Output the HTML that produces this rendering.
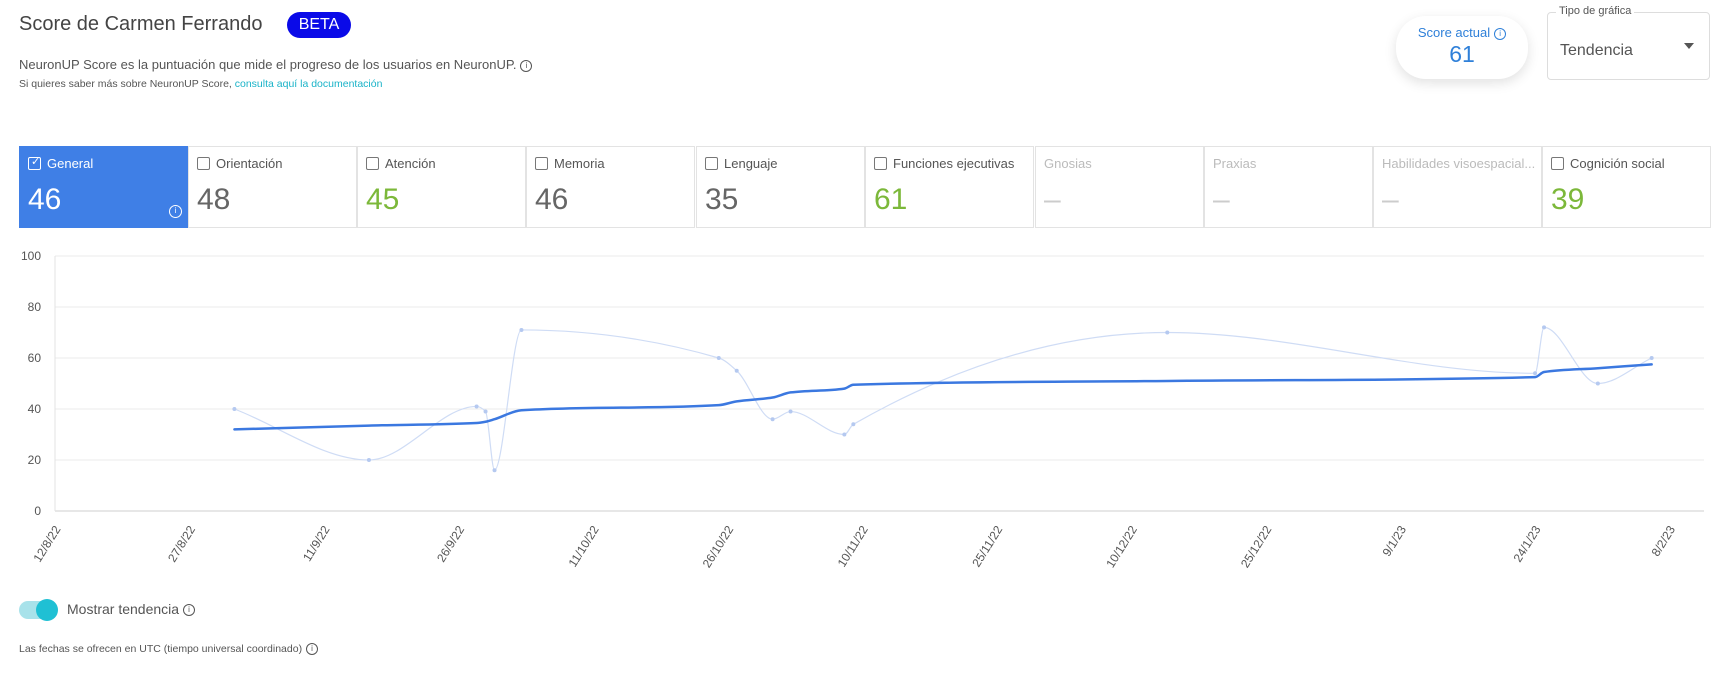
<!DOCTYPE html>
<html><head><meta charset="utf-8">
<style>
body{margin:0;width:1726px;height:680px;background:#fff;font-family:"Liberation Sans",sans-serif;position:relative;overflow:hidden;color:#444}
.abs{position:absolute}
.info{display:inline-block;width:10px;height:10px;border:1px solid currentColor;border-radius:50%;font-size:8px;line-height:10px;text-align:center;vertical-align:middle;margin-left:4px}
.cell{position:absolute;top:146px;height:82px;width:169px;border:1px solid #e3e3e3;box-sizing:border-box;background:#fff}
.cell .lbl{position:absolute;left:8px;top:9px;font-size:13px;color:#555;white-space:nowrap;overflow:hidden;width:158px}
.cell .cb{display:inline-block;width:13px;height:13px;border:1.5px solid #777;border-radius:2px;vertical-align:-2px;margin-right:6px;box-sizing:border-box}
.cell .val{position:absolute;left:8px;top:36px;font-size:30px;color:#666}
.green{color:#7cb83a!important}
.dis{color:#bbb!important}
.dash{color:#ccc!important}
</style></head><body>
<div class="abs" style="left:19px;top:13px;font-size:20px;color:#444">Score de Carmen Ferrando</div>
<div class="abs" style="left:287px;top:12px;width:64px;height:26px;border-radius:13px;background:#0a0ae8;color:#fff;font-size:16px;line-height:26px;text-align:center">BETA</div>
<div class="abs" style="left:19px;top:57px;font-size:13px;color:#555">NeuronUP Score es la puntuación que mide el progreso de los usuarios en NeuronUP.<span class="info">i</span></div>
<div class="abs" style="left:19px;top:78px;font-size:10.5px;color:#555">Si quieres saber más sobre NeuronUP Score, <span style="color:#1ab3c8">consulta aquí la documentación</span></div>

<div class="abs" style="left:1396px;top:16px;width:132px;height:63px;border-radius:30px;box-shadow:0 4px 12px rgba(0,0,0,0.12);background:#fff;text-align:center">
<div style="color:#2f80d9;font-size:13px;margin-top:9px">Score actual<span class="info">i</span></div>
<div style="color:#2f80d9;font-size:23px;margin-top:1px">61</div></div>

<div class="abs" style="left:1547px;top:12px;width:163px;height:68px;border:1px solid #ddd;border-radius:4px;box-sizing:border-box">
<div style="position:absolute;left:8px;top:-8px;background:#fff;padding:0 3px;font-size:11px;color:#555">Tipo de gráfica</div>
<div style="position:absolute;left:12px;top:29px;font-size:16px;color:#555">Tendencia</div>
<div style="position:absolute;left:136px;top:30px;width:0;height:0;border-left:5px solid transparent;border-right:5px solid transparent;border-top:6px solid #555"></div></div>

<div class="cell" style="left:19px;background:#3f7fe6;border-color:#3f7fe6"><div class="lbl" style="color:#fff"><span class="cb" style="border-color:#fff;position:relative"><span style="position:absolute;left:2px;top:-3px;font-size:11px;color:#fff">✓</span></span>General</div><div class="val" style="color:#fff">46</div><span class="info" style="position:absolute;left:145px;top:58px;color:#fff;width:11px;height:11px">i</span></div>
<div class="cell" style="left:188px"><div class="lbl"><span class="cb"></span>Orientación</div><div class="val">48</div></div>
<div class="cell" style="left:357px"><div class="lbl"><span class="cb"></span>Atención</div><div class="val green">45</div></div>
<div class="cell" style="left:526px"><div class="lbl"><span class="cb"></span>Memoria</div><div class="val">46</div></div>
<div class="cell" style="left:696px"><div class="lbl"><span class="cb"></span>Lenguaje</div><div class="val">35</div></div>
<div class="cell" style="left:865px"><div class="lbl"><span class="cb"></span>Funciones ejecutivas</div><div class="val green">61</div></div>
<div class="cell" style="left:1035px"><div class="lbl dis">Gnosias</div><div class="val dash">–</div></div>
<div class="cell" style="left:1204px"><div class="lbl dis">Praxias</div><div class="val dash">–</div></div>
<div class="cell" style="left:1373px"><div class="lbl dis">Habilidades visoespacial...</div><div class="val dash">–</div></div>
<div class="cell" style="left:1542px"><div class="lbl"><span class="cb"></span>Cognición social</div><div class="val green">39</div></div>

<svg class="abs" id="chart" style="left:0;top:240px" width="1726" height="330"></svg>

<div class="abs" style="left:19px;top:601px;width:36px;height:18px;border-radius:9px;background:#a8e2ea"><div style="position:absolute;left:17px;top:-2px;width:22px;height:22px;border-radius:50%;background:#1fc0d4"></div></div>
<div class="abs" style="left:67px;top:601px;font-size:14px;color:#555">Mostrar tendencia<span class="info">i</span></div>
<div class="abs" style="left:19px;top:643px;font-size:10.5px;color:#555">Las fechas se ofrecen en UTC (tiempo universal coordinado)<span class="info">i</span></div>

<script>
const days = [20,35,47,48,49,52,74,76,80,82,88,89,124,165,166,172,178];
const rawValues = [40,20,41,39,16,71,60,55,36,39,30,34,70,54,72,50,60];
const trendValues = [32,33.5,34.5,35,36,39.5,41.5,43,44.5,46.5,48,49.5,51,52.5,54.5,56,57.5];
const yTicks = [0,20,40,60,80,100];
const xTickLabels = ["12/8/22","27/8/22","11/9/22","26/9/22","11/10/22","26/10/22","10/11/22","25/11/22","10/12/22","25/12/22","9/1/23","24/1/23","8/2/23"];
const xTickDays = [0,15,30,45,60,75,90,105,120,135,150,165,180];

const svg = document.getElementById('chart');
const NS = 'http://www.w3.org/2000/svg';
const X0 = 55, PX_PER_DAY = 8.97, XR = 1704;
const Y0 = 271, Y100 = 16;
const xs = d => X0 + d * PX_PER_DAY;
const ys = v => Y0 - (v / 100) * (Y0 - Y100);
function mk(t, a){const e=document.createElementNS(NS,t);for(const k in a)e.setAttribute(k,a[k]);svg.appendChild(e);return e;}

yTicks.forEach(v=>{
  const l = mk('line',{x1:X0,x2:XR,y1:ys(v),y2:ys(v),stroke:v===0?'#cfcfcf':'#ebebeb','stroke-width':1});
  
  
  const t = mk('text',{x:41,y:ys(v)+4,'text-anchor':'end','font-size':12,fill:'#555','font-family':'Liberation Sans, sans-serif'});
  t.textContent = v;
  
  
});
const ax = mk('line',{x1:X0,x2:X0,y1:Y100,y2:Y0,stroke:'#e3e3e3'});



xTickLabels.forEach((lab,i)=>{
  const x = xs(xTickDays[i]);
  const t = mk('text',{x:0,y:0,'text-anchor':'end','font-size':12,fill:'#555','font-family':'Liberation Sans, sans-serif',transform:`translate(${x+6},${Y0+18}) rotate(-58)`});
  t.textContent = lab;
  
  
});

// monotone-x cubic interpolation (no loops / overshoot)
function monotone(pts){
  const n=pts.length, m=new Array(n), dx=[], sl=[];
  for(let i=0;i<n-1;i++){dx[i]=pts[i+1][0]-pts[i][0]; sl[i]=(pts[i+1][1]-pts[i][1])/dx[i];}
  m[0]=sl[0]; m[n-1]=sl[n-2];
  for(let i=1;i<n-1;i++){
    if(sl[i-1]*sl[i]<=0) m[i]=0;
    else { const w1=2*dx[i]+dx[i-1], w2=dx[i]+2*dx[i-1]; m[i]=(w1+w2)/(w1/sl[i-1]+w2/sl[i]); }
  }
  let d=`M${pts[0][0]},${pts[0][1]}`;
  for(let i=0;i<n-1;i++){
    const h=dx[i]/3;
    d+=` C${pts[i][0]+h},${pts[i][1]+m[i]*h} ${pts[i+1][0]-h},${pts[i+1][1]-m[i+1]*h} ${pts[i+1][0]},${pts[i+1][1]}`;
  }
  return d;
}
const rawPts = days.map((d,i)=>[xs(d), ys(rawValues[i])]);
const raw = mk('path',{d:monotone(rawPts),fill:'none',stroke:'#cfdcf5','stroke-width':1.2});


rawPts.forEach(p=>{
  const c = mk('circle',{cx:p[0],cy:p[1],r:2,fill:'#b5c9f0'});
  
  
});
const trendPts = days.map((d,i)=>[xs(d), ys(trendValues[i])]);
const tr = mk('path',{d:monotone(trendPts),fill:'none',stroke:'#3b78e0','stroke-width':2.5,'stroke-linecap':'round'});


</script>
</body></html>
